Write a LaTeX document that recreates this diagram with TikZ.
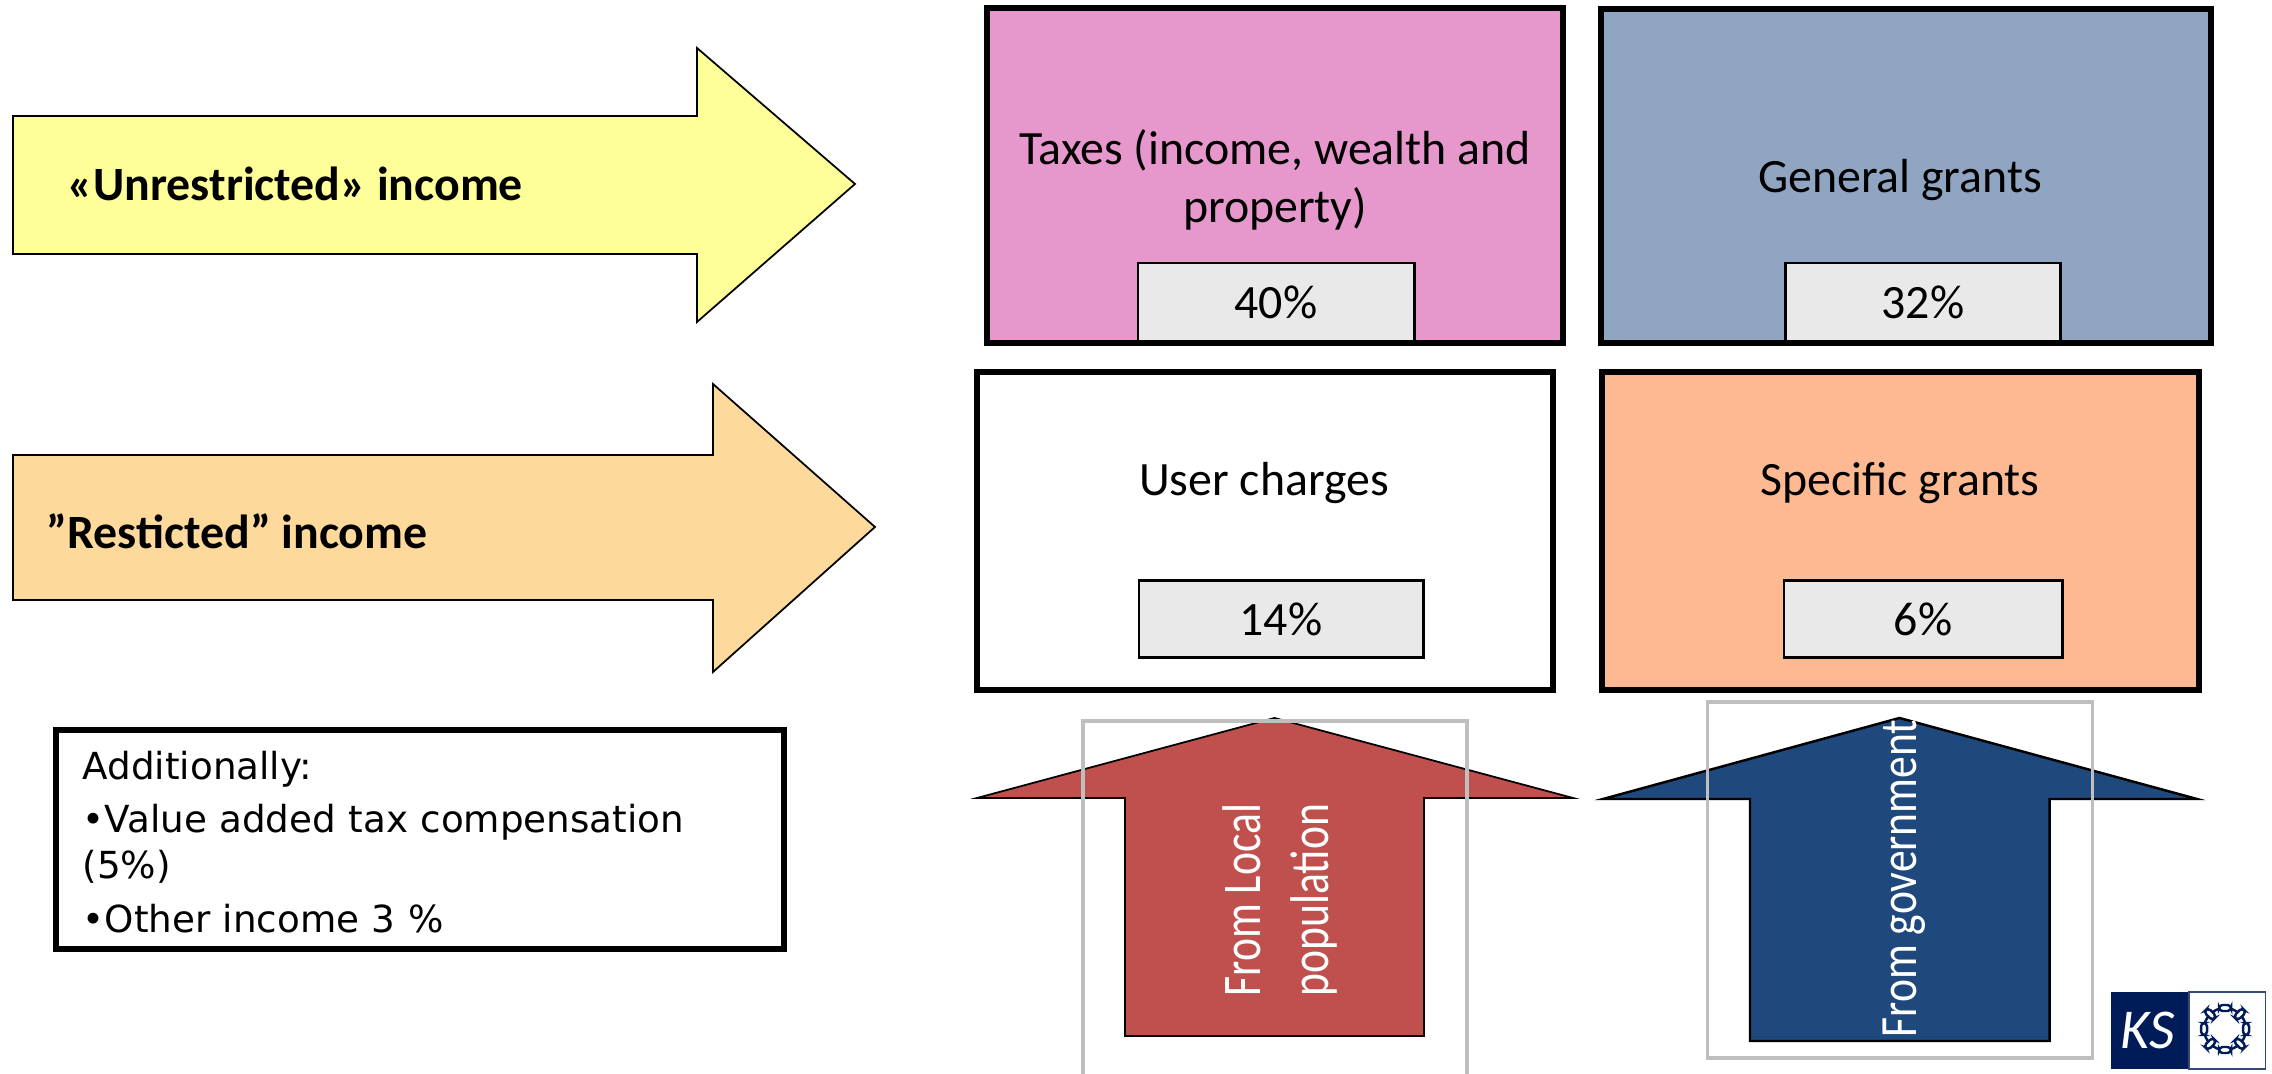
\documentclass[tikz,border=0pt]{standalone}
\usepackage{fontspec}
\setmainfont{Carlito}
\newfontfamily\boxfont{DejaVu Sans}
\definecolor{unrestr}{HTML}{FFFF99}
\definecolor{restr}{HTML}{FDD99B}
\definecolor{taxcol}{HTML}{E697CC}
\definecolor{gencol}{HTML}{8FA5C1}
\definecolor{specol}{HTML}{FDB992}
\definecolor{pctcol}{HTML}{E9E9E9}
\definecolor{redcol}{HTML}{C0504D}
\definecolor{bluecol}{HTML}{1F497D}
\definecolor{framecol}{HTML}{BFBFBF}
\definecolor{kscol}{HTML}{001C58}
\tikzset{
  bigbox/.style={draw, line width=1.7pt, inner sep=0pt, align=center},
  boxtext/.style={inner sep=0pt, align=center, font=\fontsize{13.6}{16.6}\selectfont},
  pctbox/.style={draw, line width=.8pt, fill=pctcol, inner sep=0pt, font=\fontsize{13.6}{15}\selectfont},
  bigarrow/.style={draw, line width=.5pt},
  arrowlabel/.style={anchor=west, inner sep=0pt, font=\fontsize{13.6}{15}\selectfont\bfseries},
  upstring/.style={inner sep=0pt, text=white, rotate=90, font=\fontsize{12.4}{15}\selectfont},
  picframe/.style={draw=framecol, line width=1pt},
  chainlink/.style={draw=kscol, line width=.7pt, fill=white, rounded corners=1pt, minimum width=.12cm, minimum height=.06cm, inner sep=0pt}
}
\begin{document}
\begin{tikzpicture}[x=0.01cm,y=-0.01cm]
\useasboundingbox (0,0) rectangle (2272,1074);

% arrows on the left
\path[draw,bigarrow,fill=unrestr] (13,116) -- (697,116) -- (697,48) -- (855,184) -- (697,322) -- (697,254) -- (13,254) -- cycle;
\path[draw,bigarrow,fill=restr] (13,455) -- (713,455) -- (713,384) -- (875,527) -- (713,672) -- (713,600) -- (13,600) -- cycle;
\node[arrowlabel] (unrestricted) at (67,184) {«Unrestricted» income};
\node[arrowlabel] (restricted) at (46,531) {”Resticted” income};

% income boxes
\node[bigbox,fill=taxcol,minimum width=5.76cm,minimum height=3.35cm] (taxes) at (1275,175.5) {};
\node[bigbox,fill=gencol,minimum width=6.10cm,minimum height=3.34cm] (general) at (1906,176) {};
\node[bigbox,fill=white,minimum width=5.75cm,minimum height=3.18cm] (charges) at (1265,531) {};
\node[bigbox,fill=specol,minimum width=5.97cm,minimum height=3.18cm] (specific) at (1900.5,531) {};

\node[boxtext] (taxestext) at (1275,180) {Taxes (income, wealth and\\property)};
\node[boxtext] (generaltext) at (1900,180) {General grants};
\node[boxtext] (chargestext) at (1264,483) {User charges};
\node[boxtext] (specifictext) at (1900,483) {Specific grants};

\node[pctbox,minimum width=2.76cm,minimum height=.78cm] (taxespct) at (1276,302) {40\%};
\node[pctbox,minimum width=2.75cm,minimum height=.78cm] (generalpct) at (1923,302) {32\%};
\node[pctbox,minimum width=2.84cm,minimum height=.77cm] (chargespct) at (1281,619) {14\%};
\node[pctbox,minimum width=2.78cm,minimum height=.77cm] (specificpct) at (1923,619) {6\%};

% box with the other income
\node[draw,line width=1.7pt,minimum width=7.28cm,minimum height=2.18cm,inner sep=0pt] (additional) at (420,839.5) {};
\node[anchor=north west,inner sep=0pt,text width=6.9cm,align=left,font=\boxfont\fontsize{10.6}{13.1}\selectfont] (additionaltext) at (82,750)
  {Additionally:\\[2.2pt]•Value added tax compensation\\(5\%)\\[2.2pt]•Other income 3 \%};

% arrows pointing up
\path[draw,bigarrow,fill=redcol] (1274.5,718) -- (1573,798) -- (1424,798) -- (1424,1036) -- (1125,1036) -- (1125,798) -- (977,798) -- cycle;
\path[draw,bigarrow,line width=.7pt,fill=bluecol] (1899.5,718) -- (2197,799) -- (2049.5,799) -- (2049.5,1041) -- (1750,1041) -- (1750,799) -- (1603,799) -- cycle;

\coordinate (framea) at (1083,1074);
\coordinate (frameb) at (1083,721);
\coordinate (framec) at (1467,721);
\coordinate (framed) at (1467,1074);
\path[picframe] (framea) -- (frameb) -- (framec) -- (framed);
\node[picframe,minimum width=3.85cm,minimum height=3.56cm,inner sep=0pt] (govframe) at (1900,880) {};

\node[upstring] (fromlocal) at (1242,900) {\scalebox{1}[1.25]{From Local}};
\node[upstring] (population) at (1314,900) {\scalebox{1}[1.25]{population}};
\node[upstring] (fromgov) at (1904,878.5) {\scalebox{1}[1.2]{From government}};

% logo
\path[fill=kscol] (2111,992) rectangle (2189,1069);
\path[draw=kscol!80,line width=.4pt] (2189,992) rectangle (2265.5,1069);
\node[inner sep=0pt,text=white,font=\fontsize{16}{16}\selectfont\itshape] (ks) at (2148,1030) {KS};
\begin{scope}[shift={(2225,1029)}]
\node[draw=kscol,line width=.7pt,circle,minimum size=.42cm,inner sep=0pt] (ring) at (0,0) {};
\foreach \a in {0,45,...,315}
  \node[chainlink,rotate=\a+90] (link\a) at (\a:21) {};
\end{scope}
\end{tikzpicture}
\end{document}
